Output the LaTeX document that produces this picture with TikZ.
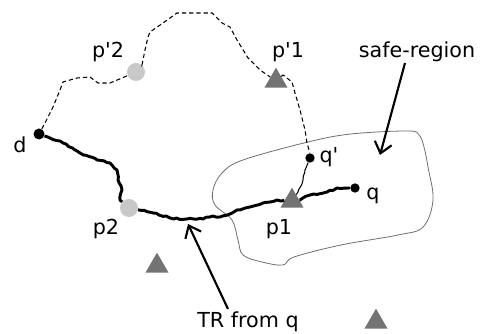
\documentclass[tikz,border=0pt]{standalone}
\usepackage{fontspec}
\setmainfont{DejaVu Sans}[Ligatures=TeXOff]
\usetikzlibrary{shapes.geometric,arrows.meta,decorations.pathmorphing}
\definecolor{ltgray}{RGB}{200,200,200}
\definecolor{dkgray}{RGB}{115,115,115}
\definecolor{regiongray}{RGB}{110,110,110}
\begin{document}
\begin{tikzpicture}[x=0.75pt,y=-0.75pt,
  lbl/.style={font=\fontsize{15.5}{18}\selectfont,anchor=base,inner sep=0pt},
  bdot/.style={circle,fill=black,inner sep=0pt,minimum size=#1},
  gdot/.style={circle,fill=ltgray,inner sep=0pt,minimum size=13.5pt},
  tri/.style={regular polygon,regular polygon sides=3,fill=dkgray,inner sep=0pt,minimum size=20pt},
  trpath/.style={line width=2.2pt,line join=round,decorate,decoration={random steps,segment length=2.5pt,amplitude=0.6pt}},
  thinpath/.style={line width=0.8pt,line join=round,decorate,decoration={random steps,segment length=2.5pt,amplitude=0.5pt}},
  dpath/.style={line width=0.8pt,dash pattern=on 3.2pt off 2.2pt},
  callout/.style={line width=1.6pt,-{Straight Barb[length=8pt,width=13pt,line width=1.6pt]}}
]
\pgfmathsetseed{7}
\useasboundingbox (0,0) rectangle (482,334);
% safe region
\draw[regiongray,line width=0.6pt] plot[smooth cycle,tension=0.6] coordinates {
 (213,190) (222,173) (243,160) (308,142) (351,134) (408,131) (419,135) (424,147)
 (428,167) (433,200) (423,227) (398,235) (341,245) (294,257) (283,265)
 (262,262) (243,255) (238,240) (232,220) (215,205)};
% nodes
\node[bdot=8.25pt] (d) at (39,134) {};
\node[gdot] (p2) at (129,208) {};
\node[gdot] (pp2) at (136,72) {};
\node[tri] (pp1) at (276,81) {};
\node[tri] (p1) at (292,201) {};
\node[tri] (t3) at (157,266) {};
\node[tri] (t4) at (376,322) {};
\node[bdot=7pt] (qq) at (310,158) {};
\node[bdot=7pt] (q) at (355,188) {};
% dashed path
\draw[dpath] (d) -- (45,123) -- (53,107) -- (60,90) -- (63,82) -- (77,78) -- (90,77)
 -- (98,83) -- (110,83) -- (122,78) -- (pp2);
\draw[dpath] (pp2) -- (142,65) -- (145,50) -- (148,37) -- (150,32) -- (163,23) -- (177,13)
 -- (193,13) -- (212,13) -- (222,23) -- (230,27) -- (237,40) -- (248,58) -- (260,70) -- (pp1);
\draw[dpath] (pp1) -- (283,75) -- (292,82) -- (295,93) -- (300,110) -- (305,130) -- (307,143) -- (309,150) -- (qq);
% thick TR path
\draw[trpath] (d) -- (50,138) -- (63,143) -- (80,153) -- (97,160) -- (110,163) -- (117,170)
 -- (118,180) -- (122,190) -- (120,200) -- (p2);
\draw[trpath] (p2) -- (153,213) -- (170,218) -- (187,219) -- (203,219) -- (213,216) -- (220,217)
 -- (230,214) -- (237,210) -- (250,207) -- (263,203) -- (277,200) -- (p1);
\draw[trpath] (p1) -- (300,200) -- (310,195) -- (327,192) -- (337,188) -- (q);
% thin path q' to p1
\draw[thinpath] (qq) -- (305,170) -- (303,180) -- (298,192) -- (p1);
% labels
\node[lbl] (ld) at (20,153) {d};
\node[lbl] (lpp2) at (108,58) {p'2};
\node[lbl] (lpp1) at (288,58) {p'1};
\node[lbl] (lsafe) at (417,58) {safe-region};
\node[lbl] (lqq) at (329,163) {q'};
\node[lbl] (lq) at (373,200) {q};
\node[lbl] (lp1) at (279,235) {p1};
\node[lbl] (lp2) at (106,235) {p2};
\node[lbl] (ltr) at (248,328) {TR from q};
% callouts
\coordinate (safetip) at (380,155);
\coordinate (trtip) at (188,224);
\draw[callout] (405,63) -- (safetip);
\draw[callout] (228,309) -- (trtip);
\end{tikzpicture}
\end{document}
